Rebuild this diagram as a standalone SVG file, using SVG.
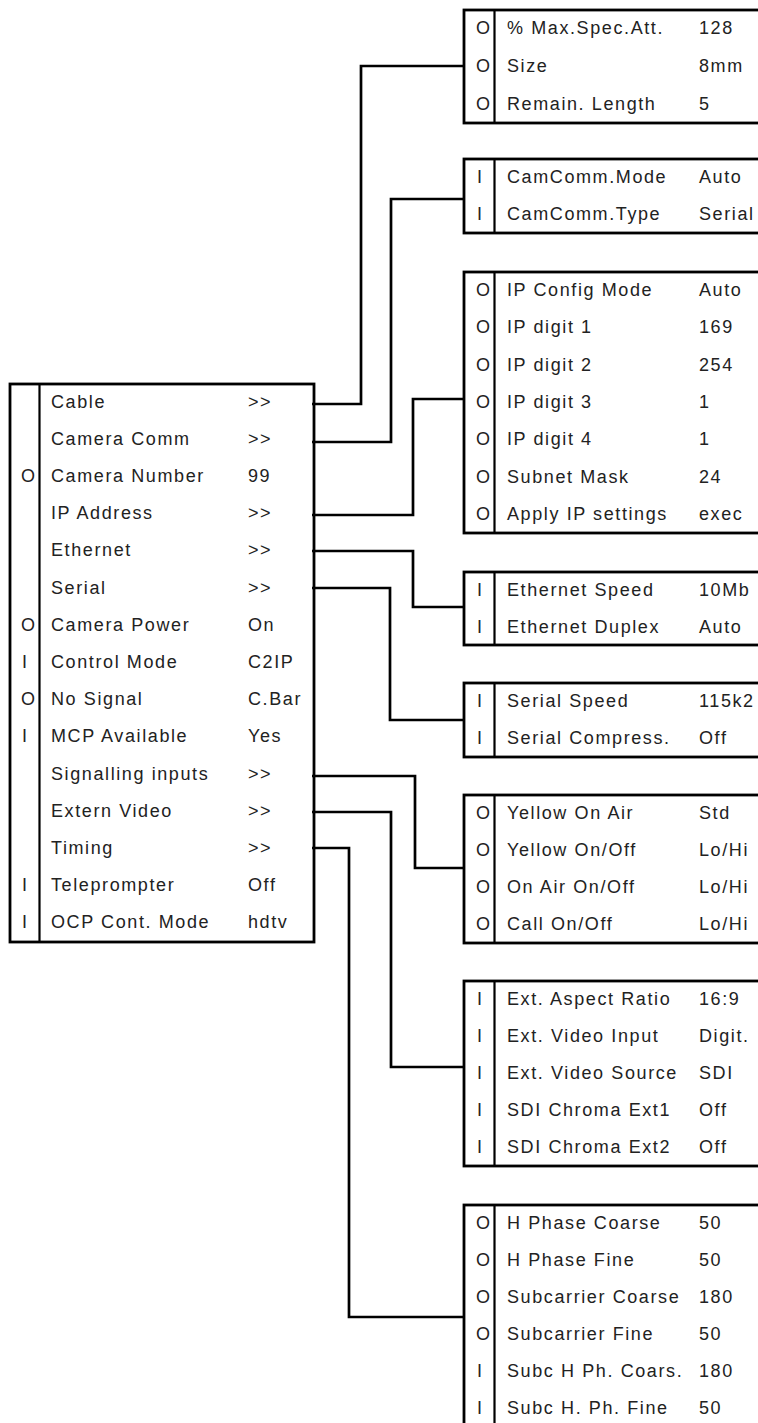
<svg xmlns="http://www.w3.org/2000/svg" width="758" height="1423" viewBox="0 0 758 1423">
<style>
.bg{fill:#fff}
.box{fill:none;stroke:#000;stroke-width:2.8}
.dv{stroke:#000;stroke-width:2.2}
.cn{fill:none;stroke:#000;stroke-width:2.7;stroke-linejoin:miter}
text{font-family:"Liberation Sans",Arial,Helvetica,sans-serif;font-size:18px;letter-spacing:1.6px;fill:#222}
</style>
<rect class="bg" x="0" y="0" width="758" height="1423"/>
<g id="connectors">
<polyline class="cn" points="312,404 361,404 361,66 464,66"/>
<polyline class="cn" points="312,442 391,442 391,199 464,199"/>
<polyline class="cn" points="312,515 413,515 413,399 464,399"/>
<polyline class="cn" points="312,551 413,551 413,607 464,607"/>
<polyline class="cn" points="312,588 390,588 390,720 464,720"/>
<polyline class="cn" points="312,776 415,776 415,868 464,868"/>
<polyline class="cn" points="312,812 391,812 391,1067 464,1067"/>
<polyline class="cn" points="312,848 349,848 349,1317 464,1317"/>
</g>
<g id="main">
<rect class="box" x="10" y="384" width="304" height="558"/>
<line class="dv" x1="39.5" y1="384" x2="39.5" y2="942"/>
<text x="51" y="407.6">Cable</text><text x="248" y="407.6">&gt;&gt;</text>
<text x="51" y="444.8">Camera Comm</text><text x="248" y="444.8">&gt;&gt;</text>
<text x="21" y="482">O</text><text x="51" y="482">Camera Number</text><text x="248" y="482">99</text>
<text x="51" y="519.2">IP Address</text><text x="248" y="519.2">&gt;&gt;</text>
<text x="51" y="556.4">Ethernet</text><text x="248" y="556.4">&gt;&gt;</text>
<text x="51" y="593.6">Serial</text><text x="248" y="593.6">&gt;&gt;</text>
<text x="21" y="630.8">O</text><text x="51" y="630.8">Camera Power</text><text x="248" y="630.8">On</text>
<text x="22" y="668">I</text><text x="51" y="668">Control Mode</text><text x="248" y="668">C2IP</text>
<text x="21" y="705.2">O</text><text x="51" y="705.2">No Signal</text><text x="248" y="705.2">C.Bar</text>
<text x="22" y="742.4">I</text><text x="51" y="742.4">MCP Available</text><text x="248" y="742.4">Yes</text>
<text x="51" y="779.6">Signalling inputs</text><text x="248" y="779.6">&gt;&gt;</text>
<text x="51" y="816.8">Extern Video</text><text x="248" y="816.8">&gt;&gt;</text>
<text x="51" y="854">Timing</text><text x="248" y="854">&gt;&gt;</text>
<text x="22" y="891.2">I</text><text x="51" y="891.2">Teleprompter</text><text x="248" y="891.2">Off</text>
<text x="22" y="928.4">I</text><text x="51" y="928.4">OCP Cont. Mode</text><text x="248" y="928.4">hdtv</text>
</g>
<g id="cable">
<rect class="box" x="464" y="10" width="310" height="113"/>
<line class="dv" x1="494.5" y1="10" x2="494.5" y2="123"/>
<text x="476" y="34.3">O</text><text x="507" y="34.3">% Max.Spec.Att.</text><text x="699" y="34.3">128</text>
<text x="476" y="72">O</text><text x="507" y="72">Size</text><text x="699" y="72">8mm</text>
<text x="476" y="109.6">O</text><text x="507" y="109.6">Remain. Length</text><text x="699" y="109.6">5</text>
</g>
<g id="cameracomm">
<rect class="box" x="464" y="159" width="310" height="74"/>
<line class="dv" x1="494.5" y1="159" x2="494.5" y2="233"/>
<text x="477" y="183">I</text><text x="507" y="183">CamComm.Mode</text><text x="699" y="183">Auto</text>
<text x="477" y="220">I</text><text x="507" y="220">CamComm.Type</text><text x="699" y="220">Serial</text>
</g>
<g id="ipaddress">
<rect class="box" x="464" y="272" width="310" height="261"/>
<line class="dv" x1="494.5" y1="272" x2="494.5" y2="533"/>
<text x="476" y="296.1">O</text><text x="507" y="296.1">IP Config Mode</text><text x="699" y="296.1">Auto</text>
<text x="476" y="333.4">O</text><text x="507" y="333.4">IP digit 1</text><text x="699" y="333.4">169</text>
<text x="476" y="370.7">O</text><text x="507" y="370.7">IP digit 2</text><text x="699" y="370.7">254</text>
<text x="476" y="408">O</text><text x="507" y="408">IP digit 3</text><text x="699" y="408">1</text>
<text x="476" y="445.3">O</text><text x="507" y="445.3">IP digit 4</text><text x="699" y="445.3">1</text>
<text x="476" y="482.5">O</text><text x="507" y="482.5">Subnet Mask</text><text x="699" y="482.5">24</text>
<text x="476" y="519.8">O</text><text x="507" y="519.8">Apply IP settings</text><text x="699" y="519.8">exec</text>
</g>
<g id="ethernet">
<rect class="box" x="464" y="572" width="310" height="73"/>
<line class="dv" x1="494.5" y1="572" x2="494.5" y2="645"/>
<text x="477" y="596">I</text><text x="507" y="596">Ethernet Speed</text><text x="699" y="596">10Mb</text>
<text x="477" y="632.5">I</text><text x="507" y="632.5">Ethernet Duplex</text><text x="699" y="632.5">Auto</text>
</g>
<g id="serial">
<rect class="box" x="464" y="683" width="310" height="74"/>
<line class="dv" x1="494.5" y1="683" x2="494.5" y2="757"/>
<text x="477" y="707">I</text><text x="507" y="707">Serial Speed</text><text x="699" y="707">115k2</text>
<text x="477" y="744">I</text><text x="507" y="744">Serial Compress.</text><text x="699" y="744">Off</text>
</g>
<g id="signalling">
<rect class="box" x="464" y="795" width="310" height="148"/>
<line class="dv" x1="494.5" y1="795" x2="494.5" y2="943"/>
<text x="476" y="819">O</text><text x="507" y="819">Yellow On Air</text><text x="699" y="819">Std</text>
<text x="476" y="856">O</text><text x="507" y="856">Yellow On/Off</text><text x="699" y="856">Lo/Hi</text>
<text x="476" y="893">O</text><text x="507" y="893">On Air On/Off</text><text x="699" y="893">Lo/Hi</text>
<text x="476" y="930">O</text><text x="507" y="930">Call On/Off</text><text x="699" y="930">Lo/Hi</text>
</g>
<g id="externvideo">
<rect class="box" x="464" y="981" width="310" height="185"/>
<line class="dv" x1="494.5" y1="981" x2="494.5" y2="1166"/>
<text x="477" y="1005">I</text><text x="507" y="1005">Ext. Aspect Ratio</text><text x="699" y="1005">16:9</text>
<text x="477" y="1042">I</text><text x="507" y="1042">Ext. Video Input</text><text x="699" y="1042">Digit.</text>
<text x="477" y="1079">I</text><text x="507" y="1079">Ext. Video Source</text><text x="699" y="1079">SDI</text>
<text x="477" y="1116">I</text><text x="507" y="1116">SDI Chroma Ext1</text><text x="699" y="1116">Off</text>
<text x="477" y="1153">I</text><text x="507" y="1153">SDI Chroma Ext2</text><text x="699" y="1153">Off</text>
</g>
<g id="timing">
<rect class="box" x="464" y="1205" width="310" height="240"/>
<line class="dv" x1="494.5" y1="1205" x2="494.5" y2="1445"/>
<text x="476" y="1229">O</text><text x="507" y="1229">H Phase Coarse</text><text x="699" y="1229">50</text>
<text x="476" y="1266">O</text><text x="507" y="1266">H Phase Fine</text><text x="699" y="1266">50</text>
<text x="476" y="1303">O</text><text x="507" y="1303">Subcarrier Coarse</text><text x="699" y="1303">180</text>
<text x="476" y="1340">O</text><text x="507" y="1340">Subcarrier Fine</text><text x="699" y="1340">50</text>
<text x="477" y="1377">I</text><text x="507" y="1377">Subc H Ph. Coars.</text><text x="699" y="1377">180</text>
<text x="477" y="1414">I</text><text x="507" y="1414">Subc H. Ph. Fine</text><text x="699" y="1414">50</text>
</g>
</svg>
